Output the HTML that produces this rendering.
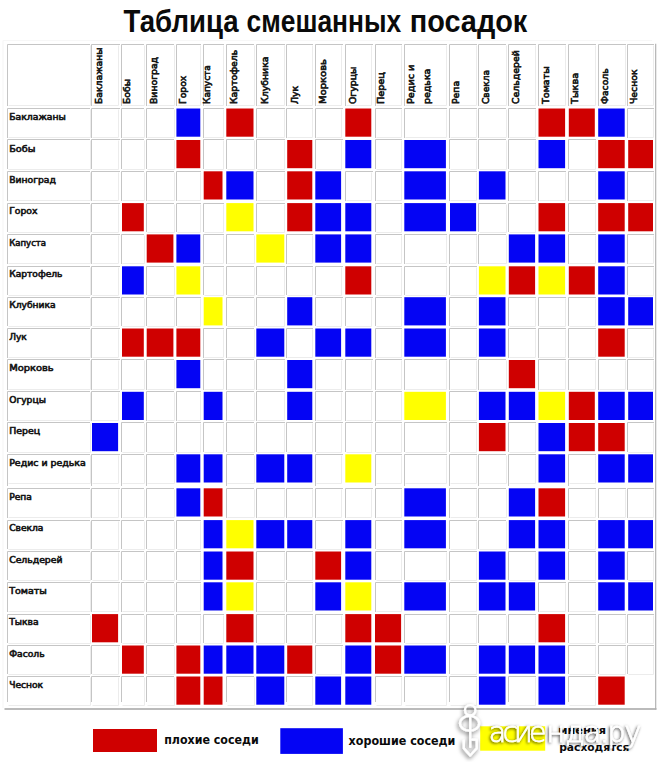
<!DOCTYPE html>
<html lang="ru"><head><meta charset="utf-8"><title>Таблица смешанных посадок</title>
<style>
html,body{margin:0;padding:0;background:#fff;}
body{width:660px;height:762px;overflow:hidden;position:relative;}
svg{position:absolute;left:0;top:0;display:block;}
.t{font-family:"DejaVu Sans","Liberation Sans",sans-serif;font-weight:normal;font-size:8.8px;fill:#161616;stroke:#161616;stroke-width:0.6px;}
.ti{font-family:"Liberation Sans","DejaVu Sans",sans-serif;font-weight:bold;font-size:31px;fill:#0a0a0a;}
.lg{font-family:"DejaVu Sans","Liberation Sans",sans-serif;font-weight:bold;font-size:12.6px;fill:#0a0a0a;}
.lg2{font-family:"DejaVu Sans","Liberation Sans",sans-serif;font-weight:bold;font-size:11px;fill:#0a0a0a;}
.wm{font-family:"DejaVu Sans","Liberation Sans",sans-serif;font-weight:200;font-size:28.5px;fill:#fff;stroke:#fff;stroke-width:0.7px;}
</style></head><body>
<svg width="660" height="762" viewBox="0 0 660 762">
<text class="ti" y="31.8"><tspan x="123.6" textLength="115" lengthAdjust="spacingAndGlyphs">Таблица</tspan> <tspan x="246.6" textLength="154.5" lengthAdjust="spacingAndGlyphs">смешанных</tspan> <tspan x="409.8" textLength="117.5" lengthAdjust="spacingAndGlyphs">посадок</tspan></text>
<g fill="none" stroke-width="1">
<line x1="3" y1="40.5" x2="652" y2="40.5" stroke="#f7f7f7"/>
<line x1="3" y1="40.5" x2="3" y2="708" stroke="#f5f5f5"/>
<path d="M7.5 106 V44.5 H90" stroke="#c5c5c5"/>
<path d="M8.5 105.5 H90.5 V45.5" stroke="#ececec"/>
<path d="M91.5 106 V44.5 H120" stroke="#c5c5c5"/>
<path d="M92.5 105.5 H118.5 V45.5" stroke="#ececec"/>
<path d="M121.5 106 V44.5 H144" stroke="#c5c5c5"/>
<path d="M122.5 105.5 H144.5 V45.5" stroke="#ececec"/>
<path d="M146.5 106 V44.5 H174" stroke="#c5c5c5"/>
<path d="M147.5 105.5 H174.5 V45.5" stroke="#ececec"/>
<path d="M176.5 106 V44.5 H201" stroke="#c5c5c5"/>
<path d="M177.5 105.5 H200.5 V45.5" stroke="#ececec"/>
<path d="M203.5 106 V44.5 H224" stroke="#c5c5c5"/>
<path d="M204.5 105.5 H223.5 V45.5" stroke="#ececec"/>
<path d="M226.5 106 V44.5 H254" stroke="#c5c5c5"/>
<path d="M227.5 105.5 H254.5 V45.5" stroke="#ececec"/>
<path d="M256.5 106 V44.5 H285" stroke="#c5c5c5"/>
<path d="M257.5 105.5 H284.5 V45.5" stroke="#ececec"/>
<path d="M286.5 106 V44.5 H313" stroke="#c5c5c5"/>
<path d="M287.5 105.5 H312.5 V45.5" stroke="#ececec"/>
<path d="M315.5 106 V44.5 H343" stroke="#c5c5c5"/>
<path d="M316.5 105.5 H341.5 V45.5" stroke="#ececec"/>
<path d="M345.5 106 V44.5 H373" stroke="#c5c5c5"/>
<path d="M346.5 105.5 H371.5 V45.5" stroke="#ececec"/>
<path d="M375.5 106 V44.5 H402" stroke="#c5c5c5"/>
<path d="M376.5 105.5 H401.5 V45.5" stroke="#ececec"/>
<path d="M404.5 106 V44.5 H447" stroke="#c5c5c5"/>
<path d="M405.5 105.5 H446.5 V45.5" stroke="#ececec"/>
<path d="M449.5 106 V44.5 H477" stroke="#c5c5c5"/>
<path d="M450.5 105.5 H476.5 V45.5" stroke="#ececec"/>
<path d="M478.5 106 V44.5 H506" stroke="#c5c5c5"/>
<path d="M479.5 105.5 H506.5 V45.5" stroke="#ececec"/>
<path d="M508.5 106 V44.5 H536" stroke="#c5c5c5"/>
<path d="M509.5 105.5 H535.5 V45.5" stroke="#ececec"/>
<path d="M538.5 106 V44.5 H566" stroke="#c5c5c5"/>
<path d="M539.5 105.5 H565.5 V45.5" stroke="#ececec"/>
<path d="M568.5 106 V44.5 H596" stroke="#c5c5c5"/>
<path d="M569.5 105.5 H595.5 V45.5" stroke="#ececec"/>
<path d="M598.5 106 V44.5 H626" stroke="#c5c5c5"/>
<path d="M599.5 105.5 H625.5 V45.5" stroke="#ececec"/>
<path d="M627.5 106 V44.5 H654" stroke="#c5c5c5"/>
<path d="M628.5 105.5 H653.5 V45.5" stroke="#ececec"/>
<path d="M7.5 138 V108.5 H90" stroke="#c5c5c5"/>
<path d="M8.5 137.5 H90.5 V109.5" stroke="#ececec"/>
<path d="M91.5 138 V108.5 H120" stroke="#c5c5c5"/>
<path d="M92.5 137.5 H118.5 V109.5" stroke="#ececec"/>
<path d="M121.5 138 V108.5 H144" stroke="#c5c5c5"/>
<path d="M122.5 137.5 H144.5 V109.5" stroke="#ececec"/>
<path d="M146.5 138 V108.5 H174" stroke="#c5c5c5"/>
<path d="M147.5 137.5 H174.5 V109.5" stroke="#ececec"/>
<path d="M203.5 138 V108.5 H224" stroke="#c5c5c5"/>
<path d="M204.5 137.5 H223.5 V109.5" stroke="#ececec"/>
<path d="M256.5 138 V108.5 H285" stroke="#c5c5c5"/>
<path d="M257.5 137.5 H284.5 V109.5" stroke="#ececec"/>
<path d="M286.5 138 V108.5 H313" stroke="#c5c5c5"/>
<path d="M287.5 137.5 H312.5 V109.5" stroke="#ececec"/>
<path d="M315.5 138 V108.5 H343" stroke="#c5c5c5"/>
<path d="M316.5 137.5 H341.5 V109.5" stroke="#ececec"/>
<path d="M375.5 138 V108.5 H402" stroke="#c5c5c5"/>
<path d="M376.5 137.5 H401.5 V109.5" stroke="#ececec"/>
<path d="M404.5 138 V108.5 H447" stroke="#c5c5c5"/>
<path d="M405.5 137.5 H446.5 V109.5" stroke="#ececec"/>
<path d="M449.5 138 V108.5 H477" stroke="#c5c5c5"/>
<path d="M450.5 137.5 H476.5 V109.5" stroke="#ececec"/>
<path d="M478.5 138 V108.5 H506" stroke="#c5c5c5"/>
<path d="M479.5 137.5 H506.5 V109.5" stroke="#ececec"/>
<path d="M508.5 138 V108.5 H536" stroke="#c5c5c5"/>
<path d="M509.5 137.5 H535.5 V109.5" stroke="#ececec"/>
<path d="M627.5 138 V108.5 H654" stroke="#c5c5c5"/>
<path d="M628.5 137.5 H653.5 V109.5" stroke="#ececec"/>
<path d="M7.5 169 V139.5 H90" stroke="#c5c5c5"/>
<path d="M8.5 169.5 H90.5 V140.5" stroke="#ececec"/>
<path d="M91.5 169 V139.5 H120" stroke="#c5c5c5"/>
<path d="M92.5 169.5 H118.5 V140.5" stroke="#ececec"/>
<path d="M121.5 169 V139.5 H144" stroke="#c5c5c5"/>
<path d="M122.5 169.5 H144.5 V140.5" stroke="#ececec"/>
<path d="M146.5 169 V139.5 H174" stroke="#c5c5c5"/>
<path d="M147.5 169.5 H174.5 V140.5" stroke="#ececec"/>
<path d="M203.5 169 V139.5 H224" stroke="#c5c5c5"/>
<path d="M204.5 169.5 H223.5 V140.5" stroke="#ececec"/>
<path d="M226.5 169 V139.5 H254" stroke="#c5c5c5"/>
<path d="M227.5 169.5 H254.5 V140.5" stroke="#ececec"/>
<path d="M256.5 169 V139.5 H285" stroke="#c5c5c5"/>
<path d="M257.5 169.5 H284.5 V140.5" stroke="#ececec"/>
<path d="M315.5 169 V139.5 H343" stroke="#c5c5c5"/>
<path d="M316.5 169.5 H341.5 V140.5" stroke="#ececec"/>
<path d="M375.5 169 V139.5 H402" stroke="#c5c5c5"/>
<path d="M376.5 169.5 H401.5 V140.5" stroke="#ececec"/>
<path d="M449.5 169 V139.5 H477" stroke="#c5c5c5"/>
<path d="M450.5 169.5 H476.5 V140.5" stroke="#ececec"/>
<path d="M478.5 169 V139.5 H506" stroke="#c5c5c5"/>
<path d="M479.5 169.5 H506.5 V140.5" stroke="#ececec"/>
<path d="M508.5 169 V139.5 H536" stroke="#c5c5c5"/>
<path d="M509.5 169.5 H535.5 V140.5" stroke="#ececec"/>
<path d="M568.5 169 V139.5 H596" stroke="#c5c5c5"/>
<path d="M569.5 169.5 H595.5 V140.5" stroke="#ececec"/>
<path d="M7.5 201 V171.5 H90" stroke="#c5c5c5"/>
<path d="M8.5 200.5 H90.5 V172.5" stroke="#ececec"/>
<path d="M91.5 201 V171.5 H120" stroke="#c5c5c5"/>
<path d="M92.5 200.5 H118.5 V172.5" stroke="#ececec"/>
<path d="M121.5 201 V171.5 H144" stroke="#c5c5c5"/>
<path d="M122.5 200.5 H144.5 V172.5" stroke="#ececec"/>
<path d="M146.5 201 V171.5 H174" stroke="#c5c5c5"/>
<path d="M147.5 200.5 H174.5 V172.5" stroke="#ececec"/>
<path d="M176.5 201 V171.5 H201" stroke="#c5c5c5"/>
<path d="M177.5 200.5 H200.5 V172.5" stroke="#ececec"/>
<path d="M256.5 201 V171.5 H285" stroke="#c5c5c5"/>
<path d="M257.5 200.5 H284.5 V172.5" stroke="#ececec"/>
<path d="M345.5 201 V171.5 H373" stroke="#c5c5c5"/>
<path d="M346.5 200.5 H371.5 V172.5" stroke="#ececec"/>
<path d="M375.5 201 V171.5 H402" stroke="#c5c5c5"/>
<path d="M376.5 200.5 H401.5 V172.5" stroke="#ececec"/>
<path d="M449.5 201 V171.5 H477" stroke="#c5c5c5"/>
<path d="M450.5 200.5 H476.5 V172.5" stroke="#ececec"/>
<path d="M508.5 201 V171.5 H536" stroke="#c5c5c5"/>
<path d="M509.5 200.5 H535.5 V172.5" stroke="#ececec"/>
<path d="M538.5 201 V171.5 H566" stroke="#c5c5c5"/>
<path d="M539.5 200.5 H565.5 V172.5" stroke="#ececec"/>
<path d="M568.5 201 V171.5 H596" stroke="#c5c5c5"/>
<path d="M569.5 200.5 H595.5 V172.5" stroke="#ececec"/>
<path d="M627.5 201 V171.5 H654" stroke="#c5c5c5"/>
<path d="M628.5 200.5 H653.5 V172.5" stroke="#ececec"/>
<path d="M7.5 232 V203.5 H90" stroke="#c5c5c5"/>
<path d="M8.5 232.5 H90.5 V204.5" stroke="#ececec"/>
<path d="M91.5 232 V203.5 H120" stroke="#c5c5c5"/>
<path d="M92.5 232.5 H118.5 V204.5" stroke="#ececec"/>
<path d="M146.5 232 V203.5 H174" stroke="#c5c5c5"/>
<path d="M147.5 232.5 H174.5 V204.5" stroke="#ececec"/>
<path d="M176.5 232 V203.5 H201" stroke="#c5c5c5"/>
<path d="M177.5 232.5 H200.5 V204.5" stroke="#ececec"/>
<path d="M203.5 232 V203.5 H224" stroke="#c5c5c5"/>
<path d="M204.5 232.5 H223.5 V204.5" stroke="#ececec"/>
<path d="M256.5 232 V203.5 H285" stroke="#c5c5c5"/>
<path d="M257.5 232.5 H284.5 V204.5" stroke="#ececec"/>
<path d="M375.5 232 V203.5 H402" stroke="#c5c5c5"/>
<path d="M376.5 232.5 H401.5 V204.5" stroke="#ececec"/>
<path d="M478.5 232 V203.5 H506" stroke="#c5c5c5"/>
<path d="M479.5 232.5 H506.5 V204.5" stroke="#ececec"/>
<path d="M508.5 232 V203.5 H536" stroke="#c5c5c5"/>
<path d="M509.5 232.5 H535.5 V204.5" stroke="#ececec"/>
<path d="M568.5 232 V203.5 H596" stroke="#c5c5c5"/>
<path d="M569.5 232.5 H595.5 V204.5" stroke="#ececec"/>
<path d="M7.5 264 V234.5 H90" stroke="#c5c5c5"/>
<path d="M8.5 263.5 H90.5 V235.5" stroke="#ececec"/>
<path d="M91.5 264 V234.5 H120" stroke="#c5c5c5"/>
<path d="M92.5 263.5 H118.5 V235.5" stroke="#ececec"/>
<path d="M121.5 264 V234.5 H144" stroke="#c5c5c5"/>
<path d="M122.5 263.5 H144.5 V235.5" stroke="#ececec"/>
<path d="M203.5 264 V234.5 H224" stroke="#c5c5c5"/>
<path d="M204.5 263.5 H223.5 V235.5" stroke="#ececec"/>
<path d="M226.5 264 V234.5 H254" stroke="#c5c5c5"/>
<path d="M227.5 263.5 H254.5 V235.5" stroke="#ececec"/>
<path d="M286.5 264 V234.5 H313" stroke="#c5c5c5"/>
<path d="M287.5 263.5 H312.5 V235.5" stroke="#ececec"/>
<path d="M375.5 264 V234.5 H402" stroke="#c5c5c5"/>
<path d="M376.5 263.5 H401.5 V235.5" stroke="#ececec"/>
<path d="M404.5 264 V234.5 H447" stroke="#c5c5c5"/>
<path d="M405.5 263.5 H446.5 V235.5" stroke="#ececec"/>
<path d="M449.5 264 V234.5 H477" stroke="#c5c5c5"/>
<path d="M450.5 263.5 H476.5 V235.5" stroke="#ececec"/>
<path d="M478.5 264 V234.5 H506" stroke="#c5c5c5"/>
<path d="M479.5 263.5 H506.5 V235.5" stroke="#ececec"/>
<path d="M568.5 264 V234.5 H596" stroke="#c5c5c5"/>
<path d="M569.5 263.5 H595.5 V235.5" stroke="#ececec"/>
<path d="M627.5 264 V234.5 H654" stroke="#c5c5c5"/>
<path d="M628.5 263.5 H653.5 V235.5" stroke="#ececec"/>
<path d="M7.5 295 V266.5 H90" stroke="#c5c5c5"/>
<path d="M8.5 295.5 H90.5 V267.5" stroke="#ececec"/>
<path d="M91.5 295 V266.5 H120" stroke="#c5c5c5"/>
<path d="M92.5 295.5 H118.5 V267.5" stroke="#ececec"/>
<path d="M146.5 295 V266.5 H174" stroke="#c5c5c5"/>
<path d="M147.5 295.5 H174.5 V267.5" stroke="#ececec"/>
<path d="M203.5 295 V266.5 H224" stroke="#c5c5c5"/>
<path d="M204.5 295.5 H223.5 V267.5" stroke="#ececec"/>
<path d="M226.5 295 V266.5 H254" stroke="#c5c5c5"/>
<path d="M227.5 295.5 H254.5 V267.5" stroke="#ececec"/>
<path d="M256.5 295 V266.5 H285" stroke="#c5c5c5"/>
<path d="M257.5 295.5 H284.5 V267.5" stroke="#ececec"/>
<path d="M286.5 295 V266.5 H313" stroke="#c5c5c5"/>
<path d="M287.5 295.5 H312.5 V267.5" stroke="#ececec"/>
<path d="M315.5 295 V266.5 H343" stroke="#c5c5c5"/>
<path d="M316.5 295.5 H341.5 V267.5" stroke="#ececec"/>
<path d="M375.5 295 V266.5 H402" stroke="#c5c5c5"/>
<path d="M376.5 295.5 H401.5 V267.5" stroke="#ececec"/>
<path d="M404.5 295 V266.5 H447" stroke="#c5c5c5"/>
<path d="M405.5 295.5 H446.5 V267.5" stroke="#ececec"/>
<path d="M449.5 295 V266.5 H477" stroke="#c5c5c5"/>
<path d="M450.5 295.5 H476.5 V267.5" stroke="#ececec"/>
<path d="M627.5 295 V266.5 H654" stroke="#c5c5c5"/>
<path d="M628.5 295.5 H653.5 V267.5" stroke="#ececec"/>
<path d="M7.5 326 V297.5 H90" stroke="#c5c5c5"/>
<path d="M8.5 326.5 H90.5 V298.5" stroke="#ececec"/>
<path d="M91.5 326 V297.5 H120" stroke="#c5c5c5"/>
<path d="M92.5 326.5 H118.5 V298.5" stroke="#ececec"/>
<path d="M121.5 326 V297.5 H144" stroke="#c5c5c5"/>
<path d="M122.5 326.5 H144.5 V298.5" stroke="#ececec"/>
<path d="M146.5 326 V297.5 H174" stroke="#c5c5c5"/>
<path d="M147.5 326.5 H174.5 V298.5" stroke="#ececec"/>
<path d="M176.5 326 V297.5 H201" stroke="#c5c5c5"/>
<path d="M177.5 326.5 H200.5 V298.5" stroke="#ececec"/>
<path d="M226.5 326 V297.5 H254" stroke="#c5c5c5"/>
<path d="M227.5 326.5 H254.5 V298.5" stroke="#ececec"/>
<path d="M256.5 326 V297.5 H285" stroke="#c5c5c5"/>
<path d="M257.5 326.5 H284.5 V298.5" stroke="#ececec"/>
<path d="M315.5 326 V297.5 H343" stroke="#c5c5c5"/>
<path d="M316.5 326.5 H341.5 V298.5" stroke="#ececec"/>
<path d="M345.5 326 V297.5 H373" stroke="#c5c5c5"/>
<path d="M346.5 326.5 H371.5 V298.5" stroke="#ececec"/>
<path d="M375.5 326 V297.5 H402" stroke="#c5c5c5"/>
<path d="M376.5 326.5 H401.5 V298.5" stroke="#ececec"/>
<path d="M449.5 326 V297.5 H477" stroke="#c5c5c5"/>
<path d="M450.5 326.5 H476.5 V298.5" stroke="#ececec"/>
<path d="M508.5 326 V297.5 H536" stroke="#c5c5c5"/>
<path d="M509.5 326.5 H535.5 V298.5" stroke="#ececec"/>
<path d="M538.5 326 V297.5 H566" stroke="#c5c5c5"/>
<path d="M539.5 326.5 H565.5 V298.5" stroke="#ececec"/>
<path d="M568.5 326 V297.5 H596" stroke="#c5c5c5"/>
<path d="M569.5 326.5 H595.5 V298.5" stroke="#ececec"/>
<path d="M7.5 358 V328.5 H90" stroke="#c5c5c5"/>
<path d="M8.5 357.5 H90.5 V329.5" stroke="#ececec"/>
<path d="M91.5 358 V328.5 H120" stroke="#c5c5c5"/>
<path d="M92.5 357.5 H118.5 V329.5" stroke="#ececec"/>
<path d="M203.5 358 V328.5 H224" stroke="#c5c5c5"/>
<path d="M204.5 357.5 H223.5 V329.5" stroke="#ececec"/>
<path d="M226.5 358 V328.5 H254" stroke="#c5c5c5"/>
<path d="M227.5 357.5 H254.5 V329.5" stroke="#ececec"/>
<path d="M286.5 358 V328.5 H313" stroke="#c5c5c5"/>
<path d="M287.5 357.5 H312.5 V329.5" stroke="#ececec"/>
<path d="M375.5 358 V328.5 H402" stroke="#c5c5c5"/>
<path d="M376.5 357.5 H401.5 V329.5" stroke="#ececec"/>
<path d="M449.5 358 V328.5 H477" stroke="#c5c5c5"/>
<path d="M450.5 357.5 H476.5 V329.5" stroke="#ececec"/>
<path d="M508.5 358 V328.5 H536" stroke="#c5c5c5"/>
<path d="M509.5 357.5 H535.5 V329.5" stroke="#ececec"/>
<path d="M538.5 358 V328.5 H566" stroke="#c5c5c5"/>
<path d="M539.5 357.5 H565.5 V329.5" stroke="#ececec"/>
<path d="M568.5 358 V328.5 H596" stroke="#c5c5c5"/>
<path d="M569.5 357.5 H595.5 V329.5" stroke="#ececec"/>
<path d="M627.5 358 V328.5 H654" stroke="#c5c5c5"/>
<path d="M628.5 357.5 H653.5 V329.5" stroke="#ececec"/>
<path d="M7.5 390 V359.5 H90" stroke="#c5c5c5"/>
<path d="M8.5 389.5 H90.5 V360.5" stroke="#ececec"/>
<path d="M91.5 390 V359.5 H120" stroke="#c5c5c5"/>
<path d="M92.5 389.5 H118.5 V360.5" stroke="#ececec"/>
<path d="M121.5 390 V359.5 H144" stroke="#c5c5c5"/>
<path d="M122.5 389.5 H144.5 V360.5" stroke="#ececec"/>
<path d="M146.5 390 V359.5 H174" stroke="#c5c5c5"/>
<path d="M147.5 389.5 H174.5 V360.5" stroke="#ececec"/>
<path d="M203.5 390 V359.5 H224" stroke="#c5c5c5"/>
<path d="M204.5 389.5 H223.5 V360.5" stroke="#ececec"/>
<path d="M226.5 390 V359.5 H254" stroke="#c5c5c5"/>
<path d="M227.5 389.5 H254.5 V360.5" stroke="#ececec"/>
<path d="M256.5 390 V359.5 H285" stroke="#c5c5c5"/>
<path d="M257.5 389.5 H284.5 V360.5" stroke="#ececec"/>
<path d="M315.5 390 V359.5 H343" stroke="#c5c5c5"/>
<path d="M316.5 389.5 H341.5 V360.5" stroke="#ececec"/>
<path d="M345.5 390 V359.5 H373" stroke="#c5c5c5"/>
<path d="M346.5 389.5 H371.5 V360.5" stroke="#ececec"/>
<path d="M375.5 390 V359.5 H402" stroke="#c5c5c5"/>
<path d="M376.5 389.5 H401.5 V360.5" stroke="#ececec"/>
<path d="M404.5 390 V359.5 H447" stroke="#c5c5c5"/>
<path d="M405.5 389.5 H446.5 V360.5" stroke="#ececec"/>
<path d="M449.5 390 V359.5 H477" stroke="#c5c5c5"/>
<path d="M450.5 389.5 H476.5 V360.5" stroke="#ececec"/>
<path d="M478.5 390 V359.5 H506" stroke="#c5c5c5"/>
<path d="M479.5 389.5 H506.5 V360.5" stroke="#ececec"/>
<path d="M538.5 390 V359.5 H566" stroke="#c5c5c5"/>
<path d="M539.5 389.5 H565.5 V360.5" stroke="#ececec"/>
<path d="M568.5 390 V359.5 H596" stroke="#c5c5c5"/>
<path d="M569.5 389.5 H595.5 V360.5" stroke="#ececec"/>
<path d="M598.5 390 V359.5 H626" stroke="#c5c5c5"/>
<path d="M599.5 389.5 H625.5 V360.5" stroke="#ececec"/>
<path d="M627.5 390 V359.5 H654" stroke="#c5c5c5"/>
<path d="M628.5 389.5 H653.5 V360.5" stroke="#ececec"/>
<path d="M7.5 421 V391.5 H90" stroke="#c5c5c5"/>
<path d="M8.5 420.5 H90.5 V392.5" stroke="#ececec"/>
<path d="M91.5 421 V391.5 H120" stroke="#c5c5c5"/>
<path d="M92.5 420.5 H118.5 V392.5" stroke="#ececec"/>
<path d="M146.5 421 V391.5 H174" stroke="#c5c5c5"/>
<path d="M147.5 420.5 H174.5 V392.5" stroke="#ececec"/>
<path d="M176.5 421 V391.5 H201" stroke="#c5c5c5"/>
<path d="M177.5 420.5 H200.5 V392.5" stroke="#ececec"/>
<path d="M226.5 421 V391.5 H254" stroke="#c5c5c5"/>
<path d="M227.5 420.5 H254.5 V392.5" stroke="#ececec"/>
<path d="M256.5 421 V391.5 H285" stroke="#c5c5c5"/>
<path d="M257.5 420.5 H284.5 V392.5" stroke="#ececec"/>
<path d="M315.5 421 V391.5 H343" stroke="#c5c5c5"/>
<path d="M316.5 420.5 H341.5 V392.5" stroke="#ececec"/>
<path d="M345.5 421 V391.5 H373" stroke="#c5c5c5"/>
<path d="M346.5 420.5 H371.5 V392.5" stroke="#ececec"/>
<path d="M375.5 421 V391.5 H402" stroke="#c5c5c5"/>
<path d="M376.5 420.5 H401.5 V392.5" stroke="#ececec"/>
<path d="M449.5 421 V391.5 H477" stroke="#c5c5c5"/>
<path d="M450.5 420.5 H476.5 V392.5" stroke="#ececec"/>
<path d="M7.5 452 V422.5 H90" stroke="#c5c5c5"/>
<path d="M8.5 452.5 H90.5 V423.5" stroke="#ececec"/>
<path d="M121.5 452 V422.5 H144" stroke="#c5c5c5"/>
<path d="M122.5 452.5 H144.5 V423.5" stroke="#ececec"/>
<path d="M146.5 452 V422.5 H174" stroke="#c5c5c5"/>
<path d="M147.5 452.5 H174.5 V423.5" stroke="#ececec"/>
<path d="M176.5 452 V422.5 H201" stroke="#c5c5c5"/>
<path d="M177.5 452.5 H200.5 V423.5" stroke="#ececec"/>
<path d="M203.5 452 V422.5 H224" stroke="#c5c5c5"/>
<path d="M204.5 452.5 H223.5 V423.5" stroke="#ececec"/>
<path d="M226.5 452 V422.5 H254" stroke="#c5c5c5"/>
<path d="M227.5 452.5 H254.5 V423.5" stroke="#ececec"/>
<path d="M256.5 452 V422.5 H285" stroke="#c5c5c5"/>
<path d="M257.5 452.5 H284.5 V423.5" stroke="#ececec"/>
<path d="M286.5 452 V422.5 H313" stroke="#c5c5c5"/>
<path d="M287.5 452.5 H312.5 V423.5" stroke="#ececec"/>
<path d="M315.5 452 V422.5 H343" stroke="#c5c5c5"/>
<path d="M316.5 452.5 H341.5 V423.5" stroke="#ececec"/>
<path d="M345.5 452 V422.5 H373" stroke="#c5c5c5"/>
<path d="M346.5 452.5 H371.5 V423.5" stroke="#ececec"/>
<path d="M375.5 452 V422.5 H402" stroke="#c5c5c5"/>
<path d="M376.5 452.5 H401.5 V423.5" stroke="#ececec"/>
<path d="M404.5 452 V422.5 H447" stroke="#c5c5c5"/>
<path d="M405.5 452.5 H446.5 V423.5" stroke="#ececec"/>
<path d="M449.5 452 V422.5 H477" stroke="#c5c5c5"/>
<path d="M450.5 452.5 H476.5 V423.5" stroke="#ececec"/>
<path d="M508.5 452 V422.5 H536" stroke="#c5c5c5"/>
<path d="M509.5 452.5 H535.5 V423.5" stroke="#ececec"/>
<path d="M627.5 452 V422.5 H654" stroke="#c5c5c5"/>
<path d="M628.5 452.5 H653.5 V423.5" stroke="#ececec"/>
<path d="M7.5 486 V454.5 H90" stroke="#c5c5c5"/>
<path d="M8.5 483.5 H90.5 V455.5" stroke="#ececec"/>
<path d="M91.5 486 V454.5 H120" stroke="#c5c5c5"/>
<path d="M92.5 483.5 H118.5 V455.5" stroke="#ececec"/>
<path d="M121.5 486 V454.5 H144" stroke="#c5c5c5"/>
<path d="M122.5 483.5 H144.5 V455.5" stroke="#ececec"/>
<path d="M146.5 486 V454.5 H174" stroke="#c5c5c5"/>
<path d="M147.5 483.5 H174.5 V455.5" stroke="#ececec"/>
<path d="M226.5 486 V454.5 H254" stroke="#c5c5c5"/>
<path d="M227.5 483.5 H254.5 V455.5" stroke="#ececec"/>
<path d="M315.5 486 V454.5 H343" stroke="#c5c5c5"/>
<path d="M316.5 483.5 H341.5 V455.5" stroke="#ececec"/>
<path d="M375.5 486 V454.5 H402" stroke="#c5c5c5"/>
<path d="M376.5 483.5 H401.5 V455.5" stroke="#ececec"/>
<path d="M404.5 486 V454.5 H447" stroke="#c5c5c5"/>
<path d="M405.5 483.5 H446.5 V455.5" stroke="#ececec"/>
<path d="M449.5 486 V454.5 H477" stroke="#c5c5c5"/>
<path d="M450.5 483.5 H476.5 V455.5" stroke="#ececec"/>
<path d="M478.5 486 V454.5 H506" stroke="#c5c5c5"/>
<path d="M479.5 483.5 H506.5 V455.5" stroke="#ececec"/>
<path d="M508.5 486 V454.5 H536" stroke="#c5c5c5"/>
<path d="M509.5 483.5 H535.5 V455.5" stroke="#ececec"/>
<path d="M568.5 486 V454.5 H596" stroke="#c5c5c5"/>
<path d="M569.5 483.5 H595.5 V455.5" stroke="#ececec"/>
<path d="M7.5 518 V488.5 H90" stroke="#c5c5c5"/>
<path d="M8.5 517.5 H90.5 V489.5" stroke="#ececec"/>
<path d="M91.5 518 V488.5 H120" stroke="#c5c5c5"/>
<path d="M92.5 517.5 H118.5 V489.5" stroke="#ececec"/>
<path d="M121.5 518 V488.5 H144" stroke="#c5c5c5"/>
<path d="M122.5 517.5 H144.5 V489.5" stroke="#ececec"/>
<path d="M146.5 518 V488.5 H174" stroke="#c5c5c5"/>
<path d="M147.5 517.5 H174.5 V489.5" stroke="#ececec"/>
<path d="M226.5 518 V488.5 H254" stroke="#c5c5c5"/>
<path d="M227.5 517.5 H254.5 V489.5" stroke="#ececec"/>
<path d="M256.5 518 V488.5 H285" stroke="#c5c5c5"/>
<path d="M257.5 517.5 H284.5 V489.5" stroke="#ececec"/>
<path d="M286.5 518 V488.5 H313" stroke="#c5c5c5"/>
<path d="M287.5 517.5 H312.5 V489.5" stroke="#ececec"/>
<path d="M315.5 518 V488.5 H343" stroke="#c5c5c5"/>
<path d="M316.5 517.5 H341.5 V489.5" stroke="#ececec"/>
<path d="M345.5 518 V488.5 H373" stroke="#c5c5c5"/>
<path d="M346.5 517.5 H371.5 V489.5" stroke="#ececec"/>
<path d="M375.5 518 V488.5 H402" stroke="#c5c5c5"/>
<path d="M376.5 517.5 H401.5 V489.5" stroke="#ececec"/>
<path d="M449.5 518 V488.5 H477" stroke="#c5c5c5"/>
<path d="M450.5 517.5 H476.5 V489.5" stroke="#ececec"/>
<path d="M478.5 518 V488.5 H506" stroke="#c5c5c5"/>
<path d="M479.5 517.5 H506.5 V489.5" stroke="#ececec"/>
<path d="M568.5 518 V488.5 H596" stroke="#c5c5c5"/>
<path d="M569.5 517.5 H595.5 V489.5" stroke="#ececec"/>
<path d="M598.5 518 V488.5 H626" stroke="#c5c5c5"/>
<path d="M599.5 517.5 H625.5 V489.5" stroke="#ececec"/>
<path d="M627.5 518 V488.5 H654" stroke="#c5c5c5"/>
<path d="M628.5 517.5 H653.5 V489.5" stroke="#ececec"/>
<path d="M7.5 549 V520.5 H90" stroke="#c5c5c5"/>
<path d="M8.5 549.5 H90.5 V521.5" stroke="#ececec"/>
<path d="M91.5 549 V520.5 H120" stroke="#c5c5c5"/>
<path d="M92.5 549.5 H118.5 V521.5" stroke="#ececec"/>
<path d="M121.5 549 V520.5 H144" stroke="#c5c5c5"/>
<path d="M122.5 549.5 H144.5 V521.5" stroke="#ececec"/>
<path d="M146.5 549 V520.5 H174" stroke="#c5c5c5"/>
<path d="M147.5 549.5 H174.5 V521.5" stroke="#ececec"/>
<path d="M176.5 549 V520.5 H201" stroke="#c5c5c5"/>
<path d="M177.5 549.5 H200.5 V521.5" stroke="#ececec"/>
<path d="M315.5 549 V520.5 H343" stroke="#c5c5c5"/>
<path d="M316.5 549.5 H341.5 V521.5" stroke="#ececec"/>
<path d="M375.5 549 V520.5 H402" stroke="#c5c5c5"/>
<path d="M376.5 549.5 H401.5 V521.5" stroke="#ececec"/>
<path d="M449.5 549 V520.5 H477" stroke="#c5c5c5"/>
<path d="M450.5 549.5 H476.5 V521.5" stroke="#ececec"/>
<path d="M478.5 549 V520.5 H506" stroke="#c5c5c5"/>
<path d="M479.5 549.5 H506.5 V521.5" stroke="#ececec"/>
<path d="M568.5 549 V520.5 H596" stroke="#c5c5c5"/>
<path d="M569.5 549.5 H595.5 V521.5" stroke="#ececec"/>
<path d="M7.5 580 V551.5 H90" stroke="#c5c5c5"/>
<path d="M8.5 580.5 H90.5 V552.5" stroke="#ececec"/>
<path d="M91.5 580 V551.5 H120" stroke="#c5c5c5"/>
<path d="M92.5 580.5 H118.5 V552.5" stroke="#ececec"/>
<path d="M121.5 580 V551.5 H144" stroke="#c5c5c5"/>
<path d="M122.5 580.5 H144.5 V552.5" stroke="#ececec"/>
<path d="M146.5 580 V551.5 H174" stroke="#c5c5c5"/>
<path d="M147.5 580.5 H174.5 V552.5" stroke="#ececec"/>
<path d="M176.5 580 V551.5 H201" stroke="#c5c5c5"/>
<path d="M177.5 580.5 H200.5 V552.5" stroke="#ececec"/>
<path d="M256.5 580 V551.5 H285" stroke="#c5c5c5"/>
<path d="M257.5 580.5 H284.5 V552.5" stroke="#ececec"/>
<path d="M286.5 580 V551.5 H313" stroke="#c5c5c5"/>
<path d="M287.5 580.5 H312.5 V552.5" stroke="#ececec"/>
<path d="M375.5 580 V551.5 H402" stroke="#c5c5c5"/>
<path d="M376.5 580.5 H401.5 V552.5" stroke="#ececec"/>
<path d="M404.5 580 V551.5 H447" stroke="#c5c5c5"/>
<path d="M405.5 580.5 H446.5 V552.5" stroke="#ececec"/>
<path d="M449.5 580 V551.5 H477" stroke="#c5c5c5"/>
<path d="M450.5 580.5 H476.5 V552.5" stroke="#ececec"/>
<path d="M508.5 580 V551.5 H536" stroke="#c5c5c5"/>
<path d="M509.5 580.5 H535.5 V552.5" stroke="#ececec"/>
<path d="M568.5 580 V551.5 H596" stroke="#c5c5c5"/>
<path d="M569.5 580.5 H595.5 V552.5" stroke="#ececec"/>
<path d="M627.5 580 V551.5 H654" stroke="#c5c5c5"/>
<path d="M628.5 580.5 H653.5 V552.5" stroke="#ececec"/>
<path d="M7.5 612 V582.5 H90" stroke="#c5c5c5"/>
<path d="M8.5 611.5 H90.5 V583.5" stroke="#ececec"/>
<path d="M91.5 612 V582.5 H120" stroke="#c5c5c5"/>
<path d="M92.5 611.5 H118.5 V583.5" stroke="#ececec"/>
<path d="M121.5 612 V582.5 H144" stroke="#c5c5c5"/>
<path d="M122.5 611.5 H144.5 V583.5" stroke="#ececec"/>
<path d="M146.5 612 V582.5 H174" stroke="#c5c5c5"/>
<path d="M147.5 611.5 H174.5 V583.5" stroke="#ececec"/>
<path d="M176.5 612 V582.5 H201" stroke="#c5c5c5"/>
<path d="M177.5 611.5 H200.5 V583.5" stroke="#ececec"/>
<path d="M256.5 612 V582.5 H285" stroke="#c5c5c5"/>
<path d="M257.5 611.5 H284.5 V583.5" stroke="#ececec"/>
<path d="M286.5 612 V582.5 H313" stroke="#c5c5c5"/>
<path d="M287.5 611.5 H312.5 V583.5" stroke="#ececec"/>
<path d="M375.5 612 V582.5 H402" stroke="#c5c5c5"/>
<path d="M376.5 611.5 H401.5 V583.5" stroke="#ececec"/>
<path d="M449.5 612 V582.5 H477" stroke="#c5c5c5"/>
<path d="M450.5 611.5 H476.5 V583.5" stroke="#ececec"/>
<path d="M538.5 612 V582.5 H566" stroke="#c5c5c5"/>
<path d="M539.5 611.5 H565.5 V583.5" stroke="#ececec"/>
<path d="M568.5 612 V582.5 H596" stroke="#c5c5c5"/>
<path d="M569.5 611.5 H595.5 V583.5" stroke="#ececec"/>
<path d="M7.5 643 V614.5 H90" stroke="#c5c5c5"/>
<path d="M8.5 643.5 H90.5 V615.5" stroke="#ececec"/>
<path d="M121.5 643 V614.5 H144" stroke="#c5c5c5"/>
<path d="M122.5 643.5 H144.5 V615.5" stroke="#ececec"/>
<path d="M146.5 643 V614.5 H174" stroke="#c5c5c5"/>
<path d="M147.5 643.5 H174.5 V615.5" stroke="#ececec"/>
<path d="M176.5 643 V614.5 H201" stroke="#c5c5c5"/>
<path d="M177.5 643.5 H200.5 V615.5" stroke="#ececec"/>
<path d="M203.5 643 V614.5 H224" stroke="#c5c5c5"/>
<path d="M204.5 643.5 H223.5 V615.5" stroke="#ececec"/>
<path d="M256.5 643 V614.5 H285" stroke="#c5c5c5"/>
<path d="M257.5 643.5 H284.5 V615.5" stroke="#ececec"/>
<path d="M286.5 643 V614.5 H313" stroke="#c5c5c5"/>
<path d="M287.5 643.5 H312.5 V615.5" stroke="#ececec"/>
<path d="M315.5 643 V614.5 H343" stroke="#c5c5c5"/>
<path d="M316.5 643.5 H341.5 V615.5" stroke="#ececec"/>
<path d="M404.5 643 V614.5 H447" stroke="#c5c5c5"/>
<path d="M405.5 643.5 H446.5 V615.5" stroke="#ececec"/>
<path d="M449.5 643 V614.5 H477" stroke="#c5c5c5"/>
<path d="M450.5 643.5 H476.5 V615.5" stroke="#ececec"/>
<path d="M478.5 643 V614.5 H506" stroke="#c5c5c5"/>
<path d="M479.5 643.5 H506.5 V615.5" stroke="#ececec"/>
<path d="M508.5 643 V614.5 H536" stroke="#c5c5c5"/>
<path d="M509.5 643.5 H535.5 V615.5" stroke="#ececec"/>
<path d="M568.5 643 V614.5 H596" stroke="#c5c5c5"/>
<path d="M569.5 643.5 H595.5 V615.5" stroke="#ececec"/>
<path d="M598.5 643 V614.5 H626" stroke="#c5c5c5"/>
<path d="M599.5 643.5 H625.5 V615.5" stroke="#ececec"/>
<path d="M627.5 643 V614.5 H654" stroke="#c5c5c5"/>
<path d="M628.5 643.5 H653.5 V615.5" stroke="#ececec"/>
<path d="M7.5 674 V645.5 H90" stroke="#c5c5c5"/>
<path d="M8.5 674.5 H90.5 V646.5" stroke="#ececec"/>
<path d="M91.5 674 V645.5 H120" stroke="#c5c5c5"/>
<path d="M92.5 674.5 H118.5 V646.5" stroke="#ececec"/>
<path d="M146.5 674 V645.5 H174" stroke="#c5c5c5"/>
<path d="M147.5 674.5 H174.5 V646.5" stroke="#ececec"/>
<path d="M315.5 674 V645.5 H343" stroke="#c5c5c5"/>
<path d="M316.5 674.5 H341.5 V646.5" stroke="#ececec"/>
<path d="M449.5 674 V645.5 H477" stroke="#c5c5c5"/>
<path d="M450.5 674.5 H476.5 V646.5" stroke="#ececec"/>
<path d="M568.5 674 V645.5 H596" stroke="#c5c5c5"/>
<path d="M569.5 674.5 H595.5 V646.5" stroke="#ececec"/>
<path d="M598.5 674 V645.5 H626" stroke="#c5c5c5"/>
<path d="M599.5 674.5 H625.5 V646.5" stroke="#ececec"/>
<path d="M627.5 674 V645.5 H654" stroke="#c5c5c5"/>
<path d="M628.5 674.5 H653.5 V646.5" stroke="#ececec"/>
<path d="M7.5 702 V676.5 H90" stroke="#c5c5c5"/>
<path d="M8.5 705.5 H90.5 V677.5" stroke="#ececec"/>
<path d="M91.5 702 V676.5 H120" stroke="#c5c5c5"/>
<path d="M92.5 705.5 H118.5 V677.5" stroke="#ececec"/>
<path d="M121.5 702 V676.5 H144" stroke="#c5c5c5"/>
<path d="M122.5 705.5 H144.5 V677.5" stroke="#ececec"/>
<path d="M146.5 702 V676.5 H174" stroke="#c5c5c5"/>
<path d="M147.5 705.5 H174.5 V677.5" stroke="#ececec"/>
<path d="M226.5 702 V676.5 H254" stroke="#c5c5c5"/>
<path d="M227.5 705.5 H254.5 V677.5" stroke="#ececec"/>
<path d="M286.5 702 V676.5 H313" stroke="#c5c5c5"/>
<path d="M287.5 705.5 H312.5 V677.5" stroke="#ececec"/>
<path d="M375.5 702 V676.5 H402" stroke="#c5c5c5"/>
<path d="M376.5 705.5 H401.5 V677.5" stroke="#ececec"/>
<path d="M404.5 702 V676.5 H447" stroke="#c5c5c5"/>
<path d="M405.5 705.5 H446.5 V677.5" stroke="#ececec"/>
<path d="M449.5 702 V676.5 H477" stroke="#c5c5c5"/>
<path d="M450.5 705.5 H476.5 V677.5" stroke="#ececec"/>
<path d="M508.5 702 V676.5 H536" stroke="#c5c5c5"/>
<path d="M509.5 705.5 H535.5 V677.5" stroke="#ececec"/>
<path d="M568.5 702 V676.5 H596" stroke="#c5c5c5"/>
<path d="M569.5 705.5 H595.5 V677.5" stroke="#ececec"/>
<line x1="4.5" y1="709" x2="656.5" y2="709" stroke="#a4a4a4" stroke-width="1.3"/>
<line x1="655.7" y1="43.8" x2="655.7" y2="709.5" stroke="#adadad" stroke-width="1.1"/>
</g>
<g>
<rect x="176.4" y="108.5" width="23.9" height="28.2" fill="#0404f4"/>
<rect x="226.3" y="108.5" width="27.2" height="28.2" fill="#cf0000"/>
<rect x="345.3" y="108.5" width="26.0" height="28.2" fill="#cf0000"/>
<rect x="538.5" y="108.5" width="26.6" height="28.2" fill="#cf0000"/>
<rect x="568.8" y="108.5" width="26.0" height="28.2" fill="#cf0000"/>
<rect x="598.2" y="108.5" width="26.5" height="28.2" fill="#0404f4"/>
<rect x="176.4" y="140" width="23.9" height="28.2" fill="#cf0000"/>
<rect x="287.2" y="140" width="25.1" height="28.2" fill="#cf0000"/>
<rect x="345.3" y="140" width="26.0" height="28.2" fill="#0404f4"/>
<rect x="404.3" y="140" width="41.6" height="28.2" fill="#0404f4"/>
<rect x="538.5" y="140" width="26.6" height="28.2" fill="#0404f4"/>
<rect x="598.2" y="140" width="26.5" height="28.2" fill="#cf0000"/>
<rect x="628.2" y="140" width="24.8" height="28.2" fill="#cf0000"/>
<rect x="203.7" y="171.3" width="18.8" height="28.2" fill="#cf0000"/>
<rect x="226.3" y="171.3" width="27.2" height="28.2" fill="#0404f4"/>
<rect x="287.2" y="171.3" width="25.1" height="28.2" fill="#cf0000"/>
<rect x="315.3" y="171.3" width="25.8" height="28.2" fill="#0404f4"/>
<rect x="404.3" y="171.3" width="41.6" height="28.2" fill="#0404f4"/>
<rect x="478.9" y="171.3" width="26.6" height="28.2" fill="#0404f4"/>
<rect x="598.2" y="171.3" width="26.5" height="28.2" fill="#0404f4"/>
<rect x="122" y="203.1" width="21.8" height="28.2" fill="#cf0000"/>
<rect x="226.3" y="203.1" width="27.2" height="28.2" fill="#ffff00"/>
<rect x="287.2" y="203.1" width="25.1" height="28.2" fill="#cf0000"/>
<rect x="315.3" y="203.1" width="25.8" height="28.2" fill="#0404f4"/>
<rect x="345.3" y="203.1" width="26.0" height="28.2" fill="#0404f4"/>
<rect x="404.3" y="203.1" width="41.6" height="28.2" fill="#0404f4"/>
<rect x="450" y="203.1" width="26.1" height="28.2" fill="#0404f4"/>
<rect x="538.5" y="203.1" width="26.6" height="28.2" fill="#cf0000"/>
<rect x="598.2" y="203.1" width="26.5" height="28.2" fill="#cf0000"/>
<rect x="628.2" y="203.1" width="24.8" height="28.2" fill="#cf0000"/>
<rect x="146.7" y="234.4" width="26.7" height="28.2" fill="#cf0000"/>
<rect x="176.4" y="234.4" width="23.9" height="28.2" fill="#0404f4"/>
<rect x="256.3" y="234.4" width="28.0" height="28.2" fill="#ffff00"/>
<rect x="315.3" y="234.4" width="25.8" height="28.2" fill="#0404f4"/>
<rect x="345.3" y="234.4" width="26.0" height="28.2" fill="#0404f4"/>
<rect x="508.8" y="234.4" width="26.3" height="28.2" fill="#0404f4"/>
<rect x="538.5" y="234.4" width="26.6" height="28.2" fill="#0404f4"/>
<rect x="598.2" y="234.4" width="26.5" height="28.2" fill="#0404f4"/>
<rect x="122" y="266.3" width="21.8" height="28.2" fill="#0404f4"/>
<rect x="176.4" y="266.3" width="23.9" height="28.2" fill="#ffff00"/>
<rect x="345.3" y="266.3" width="26.0" height="28.2" fill="#cf0000"/>
<rect x="478.9" y="266.3" width="26.6" height="28.2" fill="#ffff00"/>
<rect x="508.8" y="266.3" width="26.3" height="28.2" fill="#cf0000"/>
<rect x="538.5" y="266.3" width="26.6" height="28.2" fill="#ffff00"/>
<rect x="568.8" y="266.3" width="26.0" height="28.2" fill="#cf0000"/>
<rect x="598.2" y="266.3" width="26.5" height="28.2" fill="#0404f4"/>
<rect x="203.7" y="297.2" width="18.8" height="28.2" fill="#ffff00"/>
<rect x="287.2" y="297.2" width="25.1" height="28.2" fill="#0404f4"/>
<rect x="404.3" y="297.2" width="41.6" height="28.2" fill="#0404f4"/>
<rect x="478.9" y="297.2" width="26.6" height="28.2" fill="#0404f4"/>
<rect x="598.2" y="297.2" width="26.5" height="28.2" fill="#0404f4"/>
<rect x="628.2" y="297.2" width="24.8" height="28.2" fill="#0404f4"/>
<rect x="122" y="328.5" width="21.8" height="28.2" fill="#cf0000"/>
<rect x="146.7" y="328.5" width="26.7" height="28.2" fill="#cf0000"/>
<rect x="176.4" y="328.5" width="23.9" height="28.2" fill="#cf0000"/>
<rect x="256.3" y="328.5" width="28.0" height="28.2" fill="#0404f4"/>
<rect x="315.3" y="328.5" width="25.8" height="28.2" fill="#0404f4"/>
<rect x="345.3" y="328.5" width="26.0" height="28.2" fill="#0404f4"/>
<rect x="404.3" y="328.5" width="41.6" height="28.2" fill="#0404f4"/>
<rect x="478.9" y="328.5" width="26.6" height="28.2" fill="#0404f4"/>
<rect x="598.2" y="328.5" width="26.5" height="28.2" fill="#cf0000"/>
<rect x="176.4" y="360" width="23.9" height="28.2" fill="#0404f4"/>
<rect x="287.2" y="360" width="25.1" height="28.2" fill="#0404f4"/>
<rect x="508.8" y="360" width="26.3" height="28.2" fill="#cf0000"/>
<rect x="122" y="391.8" width="21.8" height="28.2" fill="#0404f4"/>
<rect x="203.7" y="391.8" width="18.8" height="28.2" fill="#0404f4"/>
<rect x="287.2" y="391.8" width="25.1" height="28.2" fill="#0404f4"/>
<rect x="404.3" y="391.8" width="41.6" height="28.2" fill="#ffff00"/>
<rect x="478.9" y="391.8" width="26.6" height="28.2" fill="#0404f4"/>
<rect x="508.8" y="391.8" width="26.3" height="28.2" fill="#0404f4"/>
<rect x="538.5" y="391.8" width="26.6" height="28.2" fill="#ffff00"/>
<rect x="568.8" y="391.8" width="26.0" height="28.2" fill="#cf0000"/>
<rect x="598.2" y="391.8" width="26.5" height="28.2" fill="#0404f4"/>
<rect x="628.2" y="391.8" width="24.8" height="28.2" fill="#0404f4"/>
<rect x="92" y="423" width="26.1" height="28.2" fill="#0404f4"/>
<rect x="478.9" y="423" width="26.6" height="28.2" fill="#cf0000"/>
<rect x="538.5" y="423" width="26.6" height="28.2" fill="#0404f4"/>
<rect x="568.8" y="423" width="26.0" height="28.2" fill="#cf0000"/>
<rect x="598.2" y="423" width="26.5" height="28.2" fill="#cf0000"/>
<rect x="176.4" y="454.3" width="23.9" height="28.2" fill="#0404f4"/>
<rect x="203.7" y="454.3" width="18.8" height="28.2" fill="#0404f4"/>
<rect x="256.3" y="454.3" width="28.0" height="28.2" fill="#0404f4"/>
<rect x="287.2" y="454.3" width="25.1" height="28.2" fill="#0404f4"/>
<rect x="345.3" y="454.3" width="26.0" height="28.2" fill="#ffff00"/>
<rect x="538.5" y="454.3" width="26.6" height="28.2" fill="#0404f4"/>
<rect x="598.2" y="454.3" width="26.5" height="28.2" fill="#0404f4"/>
<rect x="628.2" y="454.3" width="24.8" height="28.2" fill="#0404f4"/>
<rect x="176.4" y="488.3" width="23.9" height="28.2" fill="#0404f4"/>
<rect x="203.7" y="488.3" width="18.8" height="28.2" fill="#cf0000"/>
<rect x="404.3" y="488.3" width="41.6" height="28.2" fill="#0404f4"/>
<rect x="508.8" y="488.3" width="26.3" height="28.2" fill="#0404f4"/>
<rect x="538.5" y="488.3" width="26.6" height="28.2" fill="#cf0000"/>
<rect x="203.7" y="520.1" width="18.8" height="28.2" fill="#0404f4"/>
<rect x="226.3" y="520.1" width="27.2" height="28.2" fill="#ffff00"/>
<rect x="256.3" y="520.1" width="28.0" height="28.2" fill="#0404f4"/>
<rect x="287.2" y="520.1" width="25.1" height="28.2" fill="#0404f4"/>
<rect x="345.3" y="520.1" width="26.0" height="28.2" fill="#0404f4"/>
<rect x="404.3" y="520.1" width="41.6" height="28.2" fill="#0404f4"/>
<rect x="508.8" y="520.1" width="26.3" height="28.2" fill="#0404f4"/>
<rect x="538.5" y="520.1" width="26.6" height="28.2" fill="#0404f4"/>
<rect x="598.2" y="520.1" width="26.5" height="28.2" fill="#0404f4"/>
<rect x="628.2" y="520.1" width="24.8" height="28.2" fill="#0404f4"/>
<rect x="203.7" y="551.5" width="18.8" height="28.2" fill="#0404f4"/>
<rect x="226.3" y="551.5" width="27.2" height="28.2" fill="#cf0000"/>
<rect x="315.3" y="551.5" width="25.8" height="28.2" fill="#cf0000"/>
<rect x="345.3" y="551.5" width="26.0" height="28.2" fill="#0404f4"/>
<rect x="478.9" y="551.5" width="26.6" height="28.2" fill="#0404f4"/>
<rect x="538.5" y="551.5" width="26.6" height="28.2" fill="#0404f4"/>
<rect x="598.2" y="551.5" width="26.5" height="28.2" fill="#0404f4"/>
<rect x="203.7" y="582.3" width="18.8" height="28.2" fill="#0404f4"/>
<rect x="226.3" y="582.3" width="27.2" height="28.2" fill="#ffff00"/>
<rect x="315.3" y="582.3" width="25.8" height="28.2" fill="#0404f4"/>
<rect x="345.3" y="582.3" width="26.0" height="28.2" fill="#ffff00"/>
<rect x="404.3" y="582.3" width="41.6" height="28.2" fill="#0404f4"/>
<rect x="478.9" y="582.3" width="26.6" height="28.2" fill="#0404f4"/>
<rect x="508.8" y="582.3" width="26.3" height="28.2" fill="#0404f4"/>
<rect x="598.2" y="582.3" width="26.5" height="28.2" fill="#0404f4"/>
<rect x="628.2" y="582.3" width="24.8" height="28.2" fill="#0404f4"/>
<rect x="92" y="614.1" width="26.1" height="28.2" fill="#cf0000"/>
<rect x="226.3" y="614.1" width="27.2" height="28.2" fill="#cf0000"/>
<rect x="345.3" y="614.1" width="26.0" height="28.2" fill="#cf0000"/>
<rect x="375" y="614.1" width="26.1" height="28.2" fill="#cf0000"/>
<rect x="538.5" y="614.1" width="26.6" height="28.2" fill="#cf0000"/>
<rect x="122" y="645.5" width="21.8" height="28.2" fill="#cf0000"/>
<rect x="176.4" y="645.5" width="23.9" height="28.2" fill="#cf0000"/>
<rect x="203.7" y="645.5" width="18.8" height="28.2" fill="#0404f4"/>
<rect x="226.3" y="645.5" width="27.2" height="28.2" fill="#0404f4"/>
<rect x="256.3" y="645.5" width="28.0" height="28.2" fill="#0404f4"/>
<rect x="287.2" y="645.5" width="25.1" height="28.2" fill="#cf0000"/>
<rect x="345.3" y="645.5" width="26.0" height="28.2" fill="#0404f4"/>
<rect x="375" y="645.5" width="26.1" height="28.2" fill="#cf0000"/>
<rect x="404.3" y="645.5" width="41.6" height="28.2" fill="#0404f4"/>
<rect x="478.9" y="645.5" width="26.6" height="28.2" fill="#0404f4"/>
<rect x="508.8" y="645.5" width="26.3" height="28.2" fill="#0404f4"/>
<rect x="538.5" y="645.5" width="26.6" height="28.2" fill="#0404f4"/>
<rect x="176.4" y="676.5" width="23.9" height="28.2" fill="#cf0000"/>
<rect x="203.7" y="676.5" width="18.8" height="28.2" fill="#cf0000"/>
<rect x="256.3" y="676.5" width="28.0" height="28.2" fill="#0404f4"/>
<rect x="315.3" y="676.5" width="25.8" height="28.2" fill="#0404f4"/>
<rect x="345.3" y="676.5" width="26.0" height="28.2" fill="#0404f4"/>
<rect x="478.9" y="676.5" width="26.6" height="28.2" fill="#0404f4"/>
<rect x="538.5" y="676.5" width="26.6" height="28.2" fill="#0404f4"/>
<rect x="598.2" y="676.5" width="26.5" height="28.2" fill="#cf0000"/>
</g>
<g class="t">
<text x="-104.0" y="102.2" transform="rotate(-90)" textLength="56.6" lengthAdjust="spacingAndGlyphs">Баклажаны</text>
<text x="-104.0" y="129.5" transform="rotate(-90)" textLength="25.1" lengthAdjust="spacingAndGlyphs">Бобы</text>
<text x="-104.0" y="156.7" transform="rotate(-90)" textLength="47.0" lengthAdjust="spacingAndGlyphs">Виноград</text>
<text x="-104.0" y="186.2" transform="rotate(-90)" textLength="28.3" lengthAdjust="spacingAndGlyphs">Горох</text>
<text x="-104.0" y="210.1" transform="rotate(-90)" textLength="38.9" lengthAdjust="spacingAndGlyphs">Капуста</text>
<text x="-104.0" y="237.1" transform="rotate(-90)" textLength="54.2" lengthAdjust="spacingAndGlyphs">Картофель</text>
<text x="-104.0" y="267.6" transform="rotate(-90)" textLength="47.6" lengthAdjust="spacingAndGlyphs">Клубника</text>
<text x="-104.0" y="297.6" transform="rotate(-90)" textLength="18.3" lengthAdjust="spacingAndGlyphs">Лук</text>
<text x="-104.0" y="325.8" transform="rotate(-90)" textLength="44.9" lengthAdjust="spacingAndGlyphs">Морковь</text>
<text x="-104.0" y="355.6" transform="rotate(-90)" textLength="37.4" lengthAdjust="spacingAndGlyphs">Огурцы</text>
<text x="-104.0" y="384.3" transform="rotate(-90)" textLength="31.9" lengthAdjust="spacingAndGlyphs">Перец</text>
<text x="-104.0" y="413.6" transform="rotate(-90)" textLength="39.4" lengthAdjust="spacingAndGlyphs">Редис и</text>
<text x="-104.0" y="429.9" transform="rotate(-90)" textLength="35.4" lengthAdjust="spacingAndGlyphs">редька</text>
<text x="-104.0" y="458.8" transform="rotate(-90)" textLength="23.1" lengthAdjust="spacingAndGlyphs">Репа</text>
<text x="-104.0" y="488.8" transform="rotate(-90)" textLength="34.0" lengthAdjust="spacingAndGlyphs">Свекла</text>
<text x="-104.0" y="519.0" transform="rotate(-90)" textLength="53.9" lengthAdjust="spacingAndGlyphs">Сельдерей</text>
<text x="-104.0" y="549.0" transform="rotate(-90)" textLength="37.8" lengthAdjust="spacingAndGlyphs">Томаты</text>
<text x="-104.0" y="578.3" transform="rotate(-90)" textLength="31.2" lengthAdjust="spacingAndGlyphs">Тыква</text>
<text x="-104.0" y="608.0" transform="rotate(-90)" textLength="35.6" lengthAdjust="spacingAndGlyphs">Фасоль</text>
<text x="-104.0" y="637.4" transform="rotate(-90)" textLength="34.6" lengthAdjust="spacingAndGlyphs">Чеснок</text>
<text x="9.2" y="119.5" textLength="56.6" lengthAdjust="spacingAndGlyphs">Баклажаны</text>
<text x="9.2" y="151.5" textLength="26.3" lengthAdjust="spacingAndGlyphs">Бобы</text>
<text x="9.2" y="182.8" textLength="46.7" lengthAdjust="spacingAndGlyphs">Виноград</text>
<text x="9.2" y="214.1" textLength="28.3" lengthAdjust="spacingAndGlyphs">Горох</text>
<text x="9.2" y="245.8" textLength="36.9" lengthAdjust="spacingAndGlyphs">Капуста</text>
<text x="9.2" y="277.3" textLength="53.3" lengthAdjust="spacingAndGlyphs">Картофель</text>
<text x="9.2" y="308.2" textLength="46.5" lengthAdjust="spacingAndGlyphs">Клубника</text>
<text x="9.2" y="339.8" textLength="17.6" lengthAdjust="spacingAndGlyphs">Лук</text>
<text x="9.2" y="371.4" textLength="44.4" lengthAdjust="spacingAndGlyphs">Морковь</text>
<text x="9.2" y="403.1" textLength="36.7" lengthAdjust="spacingAndGlyphs">Огурцы</text>
<text x="9.2" y="433.9" textLength="30.8" lengthAdjust="spacingAndGlyphs">Перец</text>
<text x="9.2" y="466.0" textLength="76.5" lengthAdjust="spacingAndGlyphs">Редис и редька</text>
<text x="9.2" y="499.7" textLength="22.6" lengthAdjust="spacingAndGlyphs">Репа</text>
<text x="9.2" y="530.8" textLength="34.2" lengthAdjust="spacingAndGlyphs">Свекла</text>
<text x="9.2" y="562.5" textLength="53.3" lengthAdjust="spacingAndGlyphs">Сельдерей</text>
<text x="9.2" y="594.0" textLength="37.7" lengthAdjust="spacingAndGlyphs">Томаты</text>
<text x="9.2" y="625.4" textLength="29.5" lengthAdjust="spacingAndGlyphs">Тыква</text>
<text x="9.2" y="656.8" textLength="35.4" lengthAdjust="spacingAndGlyphs">Фасоль</text>
<text x="9.2" y="688.3" textLength="33.9" lengthAdjust="spacingAndGlyphs">Чеснок</text>
</g>
<rect x="93" y="729" width="64" height="23" fill="#cf0000"/>
<rect x="280.3" y="728.2" width="62.6" height="25.7" fill="#0404f4"/>
<rect x="480.2" y="726.3" width="65" height="24.4" fill="#ffff00"/>
<text class="lg" x="164.2" y="743.5" textLength="94.5" lengthAdjust="spacingAndGlyphs">плохие соседи</text>
<text class="lg" x="348.6" y="744.7" textLength="106.8" lengthAdjust="spacingAndGlyphs">хорошие соседи</text>
<text class="lg2" x="558.2" y="734" textLength="48" lengthAdjust="spacingAndGlyphs" style="font-size:10.3px">мнения</text>
<text class="lg2" x="559.2" y="750.5" textLength="70.3" lengthAdjust="spacingAndGlyphs">расходятся</text>
<defs><filter id="sh" x="-30%" y="-30%" width="160%" height="160%"><feGaussianBlur in="SourceAlpha" stdDeviation="1.5"/><feOffset dx="-0.6" dy="1" result="b"/><feFlood flood-color="#000" flood-opacity="0.75"/><feComposite in2="b" operator="in"/><feMerge><feMergeNode/><feMergeNode in="SourceGraphic"/></feMerge></filter><filter id="sh2" x="-60%" y="-30%" width="220%" height="160%"><feGaussianBlur in="SourceAlpha" stdDeviation="2.2"/><feOffset dx="-1.5" dy="1.5" result="b"/><feFlood flood-color="#000" flood-opacity="0.6"/><feComposite in2="b" operator="in"/><feMerge><feMergeNode/><feMergeNode in="SourceGraphic"/></feMerge></filter></defs>
<text class="wm" x="488.7 502.6 513.9 529.0 546.4 565.3 583.7 600.0 607.5 624.6" y="742.3" filter="url(#sh)">асиенда.ру</text>
<g fill="none" stroke="#fff" stroke-width="2.2" stroke-linecap="round" stroke-linejoin="round" filter="url(#sh2)"><circle cx="470.2" cy="710.2" r="5.2"/><ellipse cx="469.6" cy="723.3" rx="9.6" ry="7.4"/><path d="M470.2 716.5 V747"/><path d="M471.5 739.6 H476.8 V748.3 L470.2 755.6 L463.8 748.3 V740.8"/></g>
</svg>
</body></html>
